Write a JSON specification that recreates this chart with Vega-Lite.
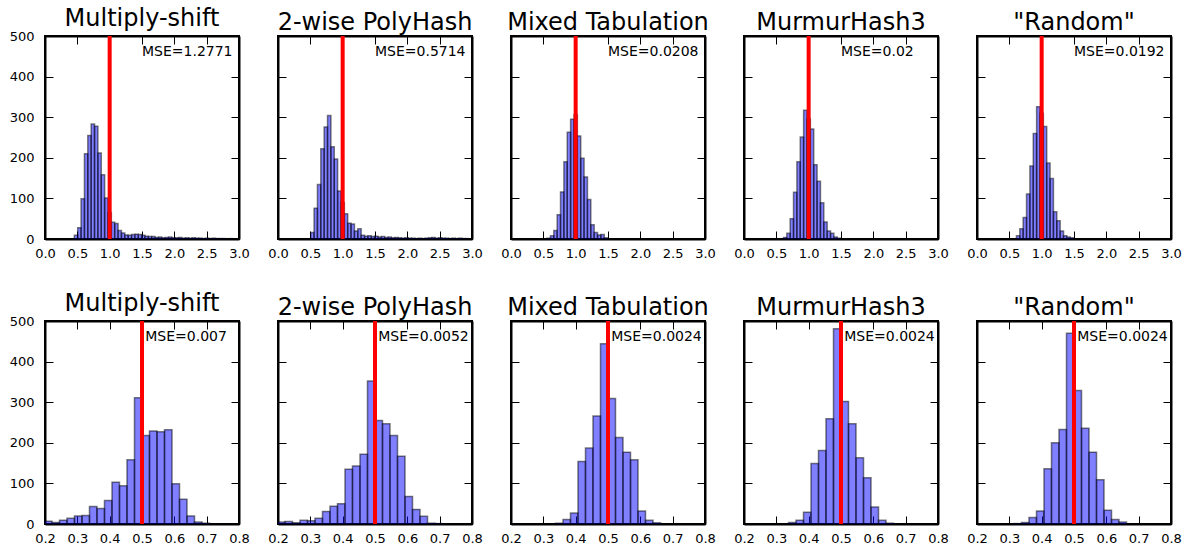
{
"$schema": "https://vega.github.io/schema/vega-lite/v6.json",
"padding": {"left": 8, "top": 6, "right": 5, "bottom": 5},
"background": "white",
"datasets": {
"mse": [
{"m":"ms","r":"t","v":1,"t":"MSE=1.2771"},{"m":"ph","r":"t","v":1,"t":"MSE=0.5714"},{"m":"mt","r":"t","v":1,"t":"MSE=0.0208"},{"m":"mm","r":"t","v":1,"t":"MSE=0.02"},{"m":"rd","r":"t","v":1,"t":"MSE=0.0192"},
{"m":"ms","r":"b","v":0.5,"t":"MSE=0.007"},{"m":"ph","r":"b","v":0.5,"t":"MSE=0.0052"},{"m":"mt","r":"b","v":0.5,"t":"MSE=0.0024"},{"m":"mm","r":"b","v":0.5,"t":"MSE=0.0024"},{"m":"rd","r":"b","v":0.5,"t":"MSE=0.0024"}
],
"top": [
{"m":"ms","x0":0.454,"x1":0.506,"c":9},{"m":"ms","x0":0.506,"x1":0.558,"c":28},{"m":"ms","x0":0.558,"x1":0.610,"c":99},{"m":"ms","x0":0.610,"x1":0.662,"c":210},{"m":"ms","x0":0.662,"x1":0.714,"c":255},{"m":"ms","x0":0.714,"x1":0.766,"c":283},{"m":"ms","x0":0.766,"x1":0.818,"c":278},{"m":"ms","x0":0.818,"x1":0.870,"c":212},{"m":"ms","x0":0.870,"x1":0.922,"c":158},{"m":"ms","x0":0.922,"x1":0.974,"c":101},{"m":"ms","x0":0.974,"x1":1.026,"c":65},{"m":"ms","x0":1.026,"x1":1.078,"c":41},{"m":"ms","x0":1.078,"x1":1.130,"c":38},{"m":"ms","x0":1.130,"x1":1.182,"c":21},{"m":"ms","x0":1.182,"x1":1.234,"c":15},{"m":"ms","x0":1.234,"x1":1.286,"c":10},{"m":"ms","x0":1.286,"x1":1.338,"c":9},{"m":"ms","x0":1.338,"x1":1.390,"c":11},{"m":"ms","x0":1.390,"x1":1.442,"c":12},{"m":"ms","x0":1.442,"x1":1.494,"c":11},{"m":"ms","x0":1.494,"x1":1.546,"c":9},{"m":"ms","x0":1.546,"x1":1.598,"c":7},{"m":"ms","x0":1.598,"x1":1.650,"c":6},{"m":"ms","x0":1.650,"x1":1.702,"c":6},{"m":"ms","x0":1.702,"x1":1.754,"c":4},{"m":"ms","x0":1.754,"x1":1.806,"c":5},{"m":"ms","x0":1.806,"x1":1.858,"c":3},{"m":"ms","x0":1.858,"x1":1.910,"c":4},{"m":"ms","x0":1.910,"x1":1.962,"c":5},{"m":"ms","x0":1.962,"x1":2.014,"c":3},{"m":"ms","x0":2.014,"x1":2.066,"c":3},{"m":"ms","x0":2.066,"x1":2.118,"c":4},{"m":"ms","x0":2.118,"x1":2.170,"c":2},{"m":"ms","x0":2.170,"x1":2.222,"c":3},{"m":"ms","x0":2.222,"x1":2.274,"c":2},{"m":"ms","x0":2.274,"x1":2.326,"c":3},{"m":"ms","x0":2.326,"x1":2.378,"c":2},{"m":"ms","x0":2.378,"x1":2.430,"c":2},{"m":"ms","x0":2.430,"x1":2.482,"c":1},{"m":"ms","x0":2.482,"x1":2.534,"c":2},{"m":"ms","x0":2.534,"x1":2.586,"c":1},{"m":"ms","x0":2.586,"x1":2.638,"c":2},{"m":"ms","x0":2.638,"x1":2.690,"c":1},{"m":"ms","x0":2.690,"x1":2.742,"c":1},{"m":"ms","x0":2.742,"x1":2.794,"c":1},{"m":"ms","x0":2.846,"x1":2.898,"c":1},
{"m":"ph","x0":0.506,"x1":0.558,"c":16},{"m":"ph","x0":0.558,"x1":0.610,"c":76},{"m":"ph","x0":0.610,"x1":0.662,"c":134},{"m":"ph","x0":0.662,"x1":0.714,"c":222},{"m":"ph","x0":0.714,"x1":0.766,"c":276},{"m":"ph","x0":0.766,"x1":0.818,"c":304},{"m":"ph","x0":0.818,"x1":0.870,"c":227},{"m":"ph","x0":0.870,"x1":0.922,"c":197},{"m":"ph","x0":0.922,"x1":0.974,"c":118},{"m":"ph","x0":0.974,"x1":1.026,"c":90},{"m":"ph","x0":1.026,"x1":1.078,"c":62},{"m":"ph","x0":1.078,"x1":1.130,"c":39},{"m":"ph","x0":1.130,"x1":1.182,"c":37},{"m":"ph","x0":1.182,"x1":1.234,"c":20},{"m":"ph","x0":1.234,"x1":1.286,"c":25},{"m":"ph","x0":1.286,"x1":1.338,"c":9},{"m":"ph","x0":1.338,"x1":1.390,"c":7},{"m":"ph","x0":1.390,"x1":1.442,"c":8},{"m":"ph","x0":1.442,"x1":1.494,"c":6},{"m":"ph","x0":1.494,"x1":1.546,"c":7},{"m":"ph","x0":1.546,"x1":1.598,"c":5},{"m":"ph","x0":1.598,"x1":1.650,"c":6},{"m":"ph","x0":1.650,"x1":1.702,"c":4},{"m":"ph","x0":1.702,"x1":1.754,"c":5},{"m":"ph","x0":1.754,"x1":1.806,"c":3},{"m":"ph","x0":1.806,"x1":1.858,"c":4},{"m":"ph","x0":1.858,"x1":1.910,"c":3},{"m":"ph","x0":1.910,"x1":1.962,"c":2},{"m":"ph","x0":1.962,"x1":2.014,"c":3},{"m":"ph","x0":2.014,"x1":2.066,"c":2},{"m":"ph","x0":2.066,"x1":2.118,"c":2},{"m":"ph","x0":2.118,"x1":2.170,"c":1},{"m":"ph","x0":2.170,"x1":2.222,"c":2},{"m":"ph","x0":2.222,"x1":2.274,"c":1},{"m":"ph","x0":2.274,"x1":2.326,"c":2},{"m":"ph","x0":2.326,"x1":2.378,"c":3},{"m":"ph","x0":2.378,"x1":2.430,"c":4},{"m":"ph","x0":2.430,"x1":2.482,"c":2},{"m":"ph","x0":2.482,"x1":2.534,"c":3},{"m":"ph","x0":2.534,"x1":2.586,"c":2},{"m":"ph","x0":2.586,"x1":2.638,"c":2},{"m":"ph","x0":2.638,"x1":2.690,"c":1},{"m":"ph","x0":2.690,"x1":2.742,"c":2},{"m":"ph","x0":2.742,"x1":2.794,"c":1},{"m":"ph","x0":2.794,"x1":2.846,"c":2},{"m":"ph","x0":2.846,"x1":2.898,"c":1},{"m":"ph","x0":2.898,"x1":2.950,"c":1},
{"m":"mt","x0":0.558,"x1":0.610,"c":2},{"m":"mt","x0":0.610,"x1":0.662,"c":8},{"m":"mt","x0":0.662,"x1":0.714,"c":21},{"m":"mt","x0":0.714,"x1":0.766,"c":60},{"m":"mt","x0":0.766,"x1":0.818,"c":116},{"m":"mt","x0":0.818,"x1":0.870,"c":190},{"m":"mt","x0":0.870,"x1":0.922,"c":263},{"m":"mt","x0":0.922,"x1":0.974,"c":295},{"m":"mt","x0":0.974,"x1":1.026,"c":306},{"m":"mt","x0":1.026,"x1":1.078,"c":254},{"m":"mt","x0":1.078,"x1":1.130,"c":199},{"m":"mt","x0":1.130,"x1":1.182,"c":153},{"m":"mt","x0":1.182,"x1":1.234,"c":97},{"m":"mt","x0":1.234,"x1":1.286,"c":35},{"m":"mt","x0":1.286,"x1":1.338,"c":16},{"m":"mt","x0":1.338,"x1":1.390,"c":10},{"m":"mt","x0":1.390,"x1":1.442,"c":11},{"m":"mt","x0":1.442,"x1":1.494,"c":3},
{"m":"mm","x0":0.610,"x1":0.662,"c":4},{"m":"mm","x0":0.662,"x1":0.714,"c":14},{"m":"mm","x0":0.714,"x1":0.766,"c":50},{"m":"mm","x0":0.766,"x1":0.818,"c":115},{"m":"mm","x0":0.818,"x1":0.870,"c":190},{"m":"mm","x0":0.870,"x1":0.922,"c":251},{"m":"mm","x0":0.922,"x1":0.974,"c":317},{"m":"mm","x0":0.974,"x1":1.026,"c":296},{"m":"mm","x0":1.026,"x1":1.078,"c":271},{"m":"mm","x0":1.078,"x1":1.130,"c":183},{"m":"mm","x0":1.130,"x1":1.182,"c":142},{"m":"mm","x0":1.182,"x1":1.234,"c":89},{"m":"mm","x0":1.234,"x1":1.286,"c":42},{"m":"mm","x0":1.286,"x1":1.338,"c":20},{"m":"mm","x0":1.338,"x1":1.390,"c":14},{"m":"mm","x0":1.390,"x1":1.442,"c":5},{"m":"mm","x0":1.442,"x1":1.494,"c":2},
{"m":"rd","x0":0.610,"x1":0.662,"c":8},{"m":"rd","x0":0.662,"x1":0.714,"c":25},{"m":"rd","x0":0.714,"x1":0.766,"c":53},{"m":"rd","x0":0.766,"x1":0.818,"c":111},{"m":"rd","x0":0.818,"x1":0.870,"c":180},{"m":"rd","x0":0.870,"x1":0.922,"c":260},{"m":"rd","x0":0.922,"x1":0.974,"c":326},{"m":"rd","x0":0.974,"x1":1.026,"c":310},{"m":"rd","x0":1.026,"x1":1.078,"c":277},{"m":"rd","x0":1.078,"x1":1.130,"c":187},{"m":"rd","x0":1.130,"x1":1.182,"c":149},{"m":"rd","x0":1.182,"x1":1.234,"c":67},{"m":"rd","x0":1.234,"x1":1.286,"c":45},{"m":"rd","x0":1.286,"x1":1.338,"c":20},{"m":"rd","x0":1.338,"x1":1.390,"c":8},{"m":"rd","x0":1.390,"x1":1.442,"c":5},{"m":"rd","x0":1.442,"x1":1.494,"c":3}
],
"bot": [
{"m":"ms","x0":0.1984,"x1":0.2216,"c":7},{"m":"ms","x0":0.2216,"x1":0.2448,"c":4},{"m":"ms","x0":0.2448,"x1":0.2680,"c":9},{"m":"ms","x0":0.2680,"x1":0.2912,"c":14},{"m":"ms","x0":0.2912,"x1":0.3144,"c":20},{"m":"ms","x0":0.3144,"x1":0.3376,"c":21},{"m":"ms","x0":0.3376,"x1":0.3608,"c":43},{"m":"ms","x0":0.3608,"x1":0.3840,"c":38},{"m":"ms","x0":0.3840,"x1":0.4072,"c":58},{"m":"ms","x0":0.4072,"x1":0.4304,"c":103},{"m":"ms","x0":0.4304,"x1":0.4536,"c":94},{"m":"ms","x0":0.4536,"x1":0.4768,"c":158},{"m":"ms","x0":0.4768,"x1":0.5000,"c":311},{"m":"ms","x0":0.5000,"x1":0.5232,"c":218},{"m":"ms","x0":0.5232,"x1":0.5464,"c":229},{"m":"ms","x0":0.5464,"x1":0.5696,"c":227},{"m":"ms","x0":0.5696,"x1":0.5928,"c":232},{"m":"ms","x0":0.5928,"x1":0.6160,"c":99},{"m":"ms","x0":0.6160,"x1":0.6392,"c":61},{"m":"ms","x0":0.6392,"x1":0.6624,"c":20},{"m":"ms","x0":0.6624,"x1":0.6856,"c":5},{"m":"ms","x0":0.6856,"x1":0.7088,"c":2},
{"m":"ph","x0":0.1984,"x1":0.2216,"c":5},{"m":"ph","x0":0.2216,"x1":0.2448,"c":6},{"m":"ph","x0":0.2448,"x1":0.2680,"c":3},{"m":"ph","x0":0.2680,"x1":0.2912,"c":9},{"m":"ph","x0":0.2912,"x1":0.3144,"c":8},{"m":"ph","x0":0.3144,"x1":0.3376,"c":14},{"m":"ph","x0":0.3376,"x1":0.3608,"c":31},{"m":"ph","x0":0.3608,"x1":0.3840,"c":44},{"m":"ph","x0":0.3840,"x1":0.4072,"c":50},{"m":"ph","x0":0.4072,"x1":0.4304,"c":135},{"m":"ph","x0":0.4304,"x1":0.4536,"c":143},{"m":"ph","x0":0.4536,"x1":0.4768,"c":172},{"m":"ph","x0":0.4768,"x1":0.5000,"c":352},{"m":"ph","x0":0.5000,"x1":0.5232,"c":255},{"m":"ph","x0":0.5232,"x1":0.5464,"c":247},{"m":"ph","x0":0.5464,"x1":0.5696,"c":218},{"m":"ph","x0":0.5696,"x1":0.5928,"c":167},{"m":"ph","x0":0.5928,"x1":0.6160,"c":68},{"m":"ph","x0":0.6160,"x1":0.6392,"c":36},{"m":"ph","x0":0.6392,"x1":0.6624,"c":19},{"m":"ph","x0":0.6624,"x1":0.6856,"c":2},{"m":"ph","x0":0.6856,"x1":0.7088,"c":1},
{"m":"mt","x0":0.3376,"x1":0.3608,"c":2},{"m":"mt","x0":0.3608,"x1":0.3840,"c":11},{"m":"mt","x0":0.3840,"x1":0.4072,"c":27},{"m":"mt","x0":0.4072,"x1":0.4304,"c":154},{"m":"mt","x0":0.4304,"x1":0.4536,"c":187},{"m":"mt","x0":0.4536,"x1":0.4768,"c":266},{"m":"mt","x0":0.4768,"x1":0.5000,"c":444},{"m":"mt","x0":0.5000,"x1":0.5232,"c":309},{"m":"mt","x0":0.5232,"x1":0.5464,"c":213},{"m":"mt","x0":0.5464,"x1":0.5696,"c":177},{"m":"mt","x0":0.5696,"x1":0.5928,"c":158},{"m":"mt","x0":0.5928,"x1":0.6160,"c":32},{"m":"mt","x0":0.6160,"x1":0.6392,"c":9},{"m":"mt","x0":0.6392,"x1":0.6624,"c":3},
{"m":"mm","x0":0.3376,"x1":0.3608,"c":4},{"m":"mm","x0":0.3608,"x1":0.3840,"c":9},{"m":"mm","x0":0.3840,"x1":0.4072,"c":29},{"m":"mm","x0":0.4072,"x1":0.4304,"c":149},{"m":"mm","x0":0.4304,"x1":0.4536,"c":181},{"m":"mm","x0":0.4536,"x1":0.4768,"c":259},{"m":"mm","x0":0.4768,"x1":0.5000,"c":481},{"m":"mm","x0":0.5000,"x1":0.5232,"c":302},{"m":"mm","x0":0.5232,"x1":0.5464,"c":247},{"m":"mm","x0":0.5464,"x1":0.5696,"c":163},{"m":"mm","x0":0.5696,"x1":0.5928,"c":114},{"m":"mm","x0":0.5928,"x1":0.6160,"c":42},{"m":"mm","x0":0.6160,"x1":0.6392,"c":9},{"m":"mm","x0":0.6392,"x1":0.6624,"c":2},
{"m":"rd","x0":0.3144,"x1":0.3376,"c":1},{"m":"rd","x0":0.3376,"x1":0.3608,"c":4},{"m":"rd","x0":0.3608,"x1":0.3840,"c":16},{"m":"rd","x0":0.3840,"x1":0.4072,"c":32},{"m":"rd","x0":0.4072,"x1":0.4304,"c":136},{"m":"rd","x0":0.4304,"x1":0.4536,"c":200},{"m":"rd","x0":0.4536,"x1":0.4768,"c":233},{"m":"rd","x0":0.4768,"x1":0.5000,"c":470},{"m":"rd","x0":0.5000,"x1":0.5232,"c":329},{"m":"rd","x0":0.5232,"x1":0.5464,"c":236},{"m":"rd","x0":0.5464,"x1":0.5696,"c":177},{"m":"rd","x0":0.5696,"x1":0.5928,"c":109},{"m":"rd","x0":0.5928,"x1":0.6160,"c":34},{"m":"rd","x0":0.6160,"x1":0.6392,"c":11},{"m":"rd","x0":0.6392,"x1":0.6624,"c":5}
]
},
"bounds": "flush",
"columns": 5,
"spacing": {"row": 82, "column": 39},
"concat": [
{"title": "Multiply-shift", "width": 194, "height": 203, "resolve": {"axis": {"x": "independent", "y": "independent"}}, "layer": [
{"data": {"name": "top"}, "transform": [{"filter": "datum.m == 'ms'"}], "mark": {"type": "bar", "fill": "#0000ff", "fillOpacity": 0.5, "stroke": "#000000", "strokeOpacity": 0.5, "strokeWidth": 1.5, "clip": true},
 "encoding": {"x": {"field": "x0", "type": "quantitative", "scale": {"domain": [0, 3], "nice": false, "zero": false}, "axis": {"orient": "bottom", "values": [0, 0.5, 1, 1.5, 2, 2.5, 3], "format": ".1f"}}, "x2": {"field": "x1"}, "y": {"field": "c", "type": "quantitative", "scale": {"domain": [0, 500], "nice": false}, "axis": {"orient": "left", "values": [0, 100, 200, 300, 400, 500]}}, "y2": {"datum": 0}}},
{"data": {"name": "mse"}, "transform": [{"filter": "datum.m == 'ms' && datum.r == 't'"}], "mark": {"type": "rule", "color": "#ff0000", "strokeWidth": 4}, "encoding": {"x": {"field": "v", "type": "quantitative", "axis": null}}},
{"data": {"name": "mse"}, "transform": [{"filter": "datum.m == 'ms' && datum.r == 't'"}], "mark": {"type": "text", "align": "left", "baseline": "alphabetic", "fontSize": 14, "font": "DejaVu Sans", "color": "black"},
 "encoding": {"x": {"datum": 1.5, "type": "quantitative", "axis": {"orient": "top", "labels": false, "values": [0, 0.5, 1, 1.5, 2, 2.5, 3]}}, "y": {"datum": 450, "type": "quantitative", "axis": {"orient": "right", "labels": false, "values": [0, 100, 200, 300, 400, 500]}}, "text": {"field": "t"}}}
]},
{"title": "2-wise PolyHash", "width": 194, "height": 203, "resolve": {"axis": {"x": "independent", "y": "independent"}}, "layer": [
{"data": {"name": "top"}, "transform": [{"filter": "datum.m == 'ph'"}], "mark": {"type": "bar", "fill": "#0000ff", "fillOpacity": 0.5, "stroke": "#000000", "strokeOpacity": 0.5, "strokeWidth": 1.5, "clip": true},
 "encoding": {"x": {"field": "x0", "type": "quantitative", "scale": {"domain": [0, 3], "nice": false, "zero": false}, "axis": {"orient": "bottom", "values": [0, 0.5, 1, 1.5, 2, 2.5, 3], "format": ".1f"}}, "x2": {"field": "x1"}, "y": {"field": "c", "type": "quantitative", "scale": {"domain": [0, 500], "nice": false}, "axis": {"orient": "left", "labels": false, "values": [0, 100, 200, 300, 400, 500]}}, "y2": {"datum": 0}}},
{"data": {"name": "mse"}, "transform": [{"filter": "datum.m == 'ph' && datum.r == 't'"}], "mark": {"type": "rule", "color": "#ff0000", "strokeWidth": 4}, "encoding": {"x": {"field": "v", "type": "quantitative", "axis": null}}},
{"data": {"name": "mse"}, "transform": [{"filter": "datum.m == 'ph' && datum.r == 't'"}], "mark": {"type": "text", "align": "left", "baseline": "alphabetic", "fontSize": 14, "font": "DejaVu Sans", "color": "black"},
 "encoding": {"x": {"datum": 1.5, "type": "quantitative", "axis": {"orient": "top", "labels": false, "values": [0, 0.5, 1, 1.5, 2, 2.5, 3]}}, "y": {"datum": 450, "type": "quantitative", "axis": {"orient": "right", "labels": false, "values": [0, 100, 200, 300, 400, 500]}}, "text": {"field": "t"}}}
]},
{"title": "Mixed Tabulation", "width": 194, "height": 203, "resolve": {"axis": {"x": "independent", "y": "independent"}}, "layer": [
{"data": {"name": "top"}, "transform": [{"filter": "datum.m == 'mt'"}], "mark": {"type": "bar", "fill": "#0000ff", "fillOpacity": 0.5, "stroke": "#000000", "strokeOpacity": 0.5, "strokeWidth": 1.5, "clip": true},
 "encoding": {"x": {"field": "x0", "type": "quantitative", "scale": {"domain": [0, 3], "nice": false, "zero": false}, "axis": {"orient": "bottom", "values": [0, 0.5, 1, 1.5, 2, 2.5, 3], "format": ".1f"}}, "x2": {"field": "x1"}, "y": {"field": "c", "type": "quantitative", "scale": {"domain": [0, 500], "nice": false}, "axis": {"orient": "left", "labels": false, "values": [0, 100, 200, 300, 400, 500]}}, "y2": {"datum": 0}}},
{"data": {"name": "mse"}, "transform": [{"filter": "datum.m == 'mt' && datum.r == 't'"}], "mark": {"type": "rule", "color": "#ff0000", "strokeWidth": 4}, "encoding": {"x": {"field": "v", "type": "quantitative", "axis": null}}},
{"data": {"name": "mse"}, "transform": [{"filter": "datum.m == 'mt' && datum.r == 't'"}], "mark": {"type": "text", "align": "left", "baseline": "alphabetic", "fontSize": 14, "font": "DejaVu Sans", "color": "black"},
 "encoding": {"x": {"datum": 1.5, "type": "quantitative", "axis": {"orient": "top", "labels": false, "values": [0, 0.5, 1, 1.5, 2, 2.5, 3]}}, "y": {"datum": 450, "type": "quantitative", "axis": {"orient": "right", "labels": false, "values": [0, 100, 200, 300, 400, 500]}}, "text": {"field": "t"}}}
]},
{"title": "MurmurHash3", "width": 194, "height": 203, "resolve": {"axis": {"x": "independent", "y": "independent"}}, "layer": [
{"data": {"name": "top"}, "transform": [{"filter": "datum.m == 'mm'"}], "mark": {"type": "bar", "fill": "#0000ff", "fillOpacity": 0.5, "stroke": "#000000", "strokeOpacity": 0.5, "strokeWidth": 1.5, "clip": true},
 "encoding": {"x": {"field": "x0", "type": "quantitative", "scale": {"domain": [0, 3], "nice": false, "zero": false}, "axis": {"orient": "bottom", "values": [0, 0.5, 1, 1.5, 2, 2.5, 3], "format": ".1f"}}, "x2": {"field": "x1"}, "y": {"field": "c", "type": "quantitative", "scale": {"domain": [0, 500], "nice": false}, "axis": {"orient": "left", "labels": false, "values": [0, 100, 200, 300, 400, 500]}}, "y2": {"datum": 0}}},
{"data": {"name": "mse"}, "transform": [{"filter": "datum.m == 'mm' && datum.r == 't'"}], "mark": {"type": "rule", "color": "#ff0000", "strokeWidth": 4}, "encoding": {"x": {"field": "v", "type": "quantitative", "axis": null}}},
{"data": {"name": "mse"}, "transform": [{"filter": "datum.m == 'mm' && datum.r == 't'"}], "mark": {"type": "text", "align": "left", "baseline": "alphabetic", "fontSize": 14, "font": "DejaVu Sans", "color": "black"},
 "encoding": {"x": {"datum": 1.5, "type": "quantitative", "axis": {"orient": "top", "labels": false, "values": [0, 0.5, 1, 1.5, 2, 2.5, 3]}}, "y": {"datum": 450, "type": "quantitative", "axis": {"orient": "right", "labels": false, "values": [0, 100, 200, 300, 400, 500]}}, "text": {"field": "t"}}}
]},
{"title": "\"Random\"", "width": 194, "height": 203, "resolve": {"axis": {"x": "independent", "y": "independent"}}, "layer": [
{"data": {"name": "top"}, "transform": [{"filter": "datum.m == 'rd'"}], "mark": {"type": "bar", "fill": "#0000ff", "fillOpacity": 0.5, "stroke": "#000000", "strokeOpacity": 0.5, "strokeWidth": 1.5, "clip": true},
 "encoding": {"x": {"field": "x0", "type": "quantitative", "scale": {"domain": [0, 3], "nice": false, "zero": false}, "axis": {"orient": "bottom", "values": [0, 0.5, 1, 1.5, 2, 2.5, 3], "format": ".1f"}}, "x2": {"field": "x1"}, "y": {"field": "c", "type": "quantitative", "scale": {"domain": [0, 500], "nice": false}, "axis": {"orient": "left", "labels": false, "values": [0, 100, 200, 300, 400, 500]}}, "y2": {"datum": 0}}},
{"data": {"name": "mse"}, "transform": [{"filter": "datum.m == 'rd' && datum.r == 't'"}], "mark": {"type": "rule", "color": "#ff0000", "strokeWidth": 4}, "encoding": {"x": {"field": "v", "type": "quantitative", "axis": null}}},
{"data": {"name": "mse"}, "transform": [{"filter": "datum.m == 'rd' && datum.r == 't'"}], "mark": {"type": "text", "align": "left", "baseline": "alphabetic", "fontSize": 14, "font": "DejaVu Sans", "color": "black"},
 "encoding": {"x": {"datum": 1.5, "type": "quantitative", "axis": {"orient": "top", "labels": false, "values": [0, 0.5, 1, 1.5, 2, 2.5, 3]}}, "y": {"datum": 450, "type": "quantitative", "axis": {"orient": "right", "labels": false, "values": [0, 100, 200, 300, 400, 500]}}, "text": {"field": "t"}}}
]},
{"title": "Multiply-shift", "width": 194, "height": 203, "resolve": {"axis": {"x": "independent", "y": "independent"}}, "layer": [
{"data": {"name": "bot"}, "transform": [{"filter": "datum.m == 'ms'"}], "mark": {"type": "bar", "fill": "#0000ff", "fillOpacity": 0.5, "stroke": "#000000", "strokeOpacity": 0.5, "strokeWidth": 1.5, "clip": true},
 "encoding": {"x": {"field": "x0", "type": "quantitative", "scale": {"domain": [0.2, 0.8], "nice": false, "zero": false}, "axis": {"orient": "bottom", "values": [0.2, 0.3, 0.4, 0.5, 0.6, 0.7, 0.8], "format": ".1f"}}, "x2": {"field": "x1"}, "y": {"field": "c", "type": "quantitative", "scale": {"domain": [0, 500], "nice": false}, "axis": {"orient": "left", "values": [0, 100, 200, 300, 400, 500]}}, "y2": {"datum": 0}}},
{"data": {"name": "mse"}, "transform": [{"filter": "datum.m == 'ms' && datum.r == 'b'"}], "mark": {"type": "rule", "color": "#ff0000", "strokeWidth": 4}, "encoding": {"x": {"field": "v", "type": "quantitative", "axis": null}}},
{"data": {"name": "mse"}, "transform": [{"filter": "datum.m == 'ms' && datum.r == 'b'"}], "mark": {"type": "text", "align": "left", "baseline": "alphabetic", "fontSize": 14, "font": "DejaVu Sans", "color": "black"},
 "encoding": {"x": {"datum": 0.51, "type": "quantitative", "axis": {"orient": "top", "labels": false, "values": [0.2, 0.3, 0.4, 0.5, 0.6, 0.7, 0.8]}}, "y": {"datum": 450, "type": "quantitative", "axis": {"orient": "right", "labels": false, "values": [0, 100, 200, 300, 400, 500]}}, "text": {"field": "t"}}}
]},
{"title": "2-wise PolyHash", "width": 194, "height": 203, "resolve": {"axis": {"x": "independent", "y": "independent"}}, "layer": [
{"data": {"name": "bot"}, "transform": [{"filter": "datum.m == 'ph'"}], "mark": {"type": "bar", "fill": "#0000ff", "fillOpacity": 0.5, "stroke": "#000000", "strokeOpacity": 0.5, "strokeWidth": 1.5, "clip": true},
 "encoding": {"x": {"field": "x0", "type": "quantitative", "scale": {"domain": [0.2, 0.8], "nice": false, "zero": false}, "axis": {"orient": "bottom", "values": [0.2, 0.3, 0.4, 0.5, 0.6, 0.7, 0.8], "format": ".1f"}}, "x2": {"field": "x1"}, "y": {"field": "c", "type": "quantitative", "scale": {"domain": [0, 500], "nice": false}, "axis": {"orient": "left", "labels": false, "values": [0, 100, 200, 300, 400, 500]}}, "y2": {"datum": 0}}},
{"data": {"name": "mse"}, "transform": [{"filter": "datum.m == 'ph' && datum.r == 'b'"}], "mark": {"type": "rule", "color": "#ff0000", "strokeWidth": 4}, "encoding": {"x": {"field": "v", "type": "quantitative", "axis": null}}},
{"data": {"name": "mse"}, "transform": [{"filter": "datum.m == 'ph' && datum.r == 'b'"}], "mark": {"type": "text", "align": "left", "baseline": "alphabetic", "fontSize": 14, "font": "DejaVu Sans", "color": "black"},
 "encoding": {"x": {"datum": 0.51, "type": "quantitative", "axis": {"orient": "top", "labels": false, "values": [0.2, 0.3, 0.4, 0.5, 0.6, 0.7, 0.8]}}, "y": {"datum": 450, "type": "quantitative", "axis": {"orient": "right", "labels": false, "values": [0, 100, 200, 300, 400, 500]}}, "text": {"field": "t"}}}
]},
{"title": "Mixed Tabulation", "width": 194, "height": 203, "resolve": {"axis": {"x": "independent", "y": "independent"}}, "layer": [
{"data": {"name": "bot"}, "transform": [{"filter": "datum.m == 'mt'"}], "mark": {"type": "bar", "fill": "#0000ff", "fillOpacity": 0.5, "stroke": "#000000", "strokeOpacity": 0.5, "strokeWidth": 1.5, "clip": true},
 "encoding": {"x": {"field": "x0", "type": "quantitative", "scale": {"domain": [0.2, 0.8], "nice": false, "zero": false}, "axis": {"orient": "bottom", "values": [0.2, 0.3, 0.4, 0.5, 0.6, 0.7, 0.8], "format": ".1f"}}, "x2": {"field": "x1"}, "y": {"field": "c", "type": "quantitative", "scale": {"domain": [0, 500], "nice": false}, "axis": {"orient": "left", "labels": false, "values": [0, 100, 200, 300, 400, 500]}}, "y2": {"datum": 0}}},
{"data": {"name": "mse"}, "transform": [{"filter": "datum.m == 'mt' && datum.r == 'b'"}], "mark": {"type": "rule", "color": "#ff0000", "strokeWidth": 4}, "encoding": {"x": {"field": "v", "type": "quantitative", "axis": null}}},
{"data": {"name": "mse"}, "transform": [{"filter": "datum.m == 'mt' && datum.r == 'b'"}], "mark": {"type": "text", "align": "left", "baseline": "alphabetic", "fontSize": 14, "font": "DejaVu Sans", "color": "black"},
 "encoding": {"x": {"datum": 0.51, "type": "quantitative", "axis": {"orient": "top", "labels": false, "values": [0.2, 0.3, 0.4, 0.5, 0.6, 0.7, 0.8]}}, "y": {"datum": 450, "type": "quantitative", "axis": {"orient": "right", "labels": false, "values": [0, 100, 200, 300, 400, 500]}}, "text": {"field": "t"}}}
]},
{"title": "MurmurHash3", "width": 194, "height": 203, "resolve": {"axis": {"x": "independent", "y": "independent"}}, "layer": [
{"data": {"name": "bot"}, "transform": [{"filter": "datum.m == 'mm'"}], "mark": {"type": "bar", "fill": "#0000ff", "fillOpacity": 0.5, "stroke": "#000000", "strokeOpacity": 0.5, "strokeWidth": 1.5, "clip": true},
 "encoding": {"x": {"field": "x0", "type": "quantitative", "scale": {"domain": [0.2, 0.8], "nice": false, "zero": false}, "axis": {"orient": "bottom", "values": [0.2, 0.3, 0.4, 0.5, 0.6, 0.7, 0.8], "format": ".1f"}}, "x2": {"field": "x1"}, "y": {"field": "c", "type": "quantitative", "scale": {"domain": [0, 500], "nice": false}, "axis": {"orient": "left", "labels": false, "values": [0, 100, 200, 300, 400, 500]}}, "y2": {"datum": 0}}},
{"data": {"name": "mse"}, "transform": [{"filter": "datum.m == 'mm' && datum.r == 'b'"}], "mark": {"type": "rule", "color": "#ff0000", "strokeWidth": 4}, "encoding": {"x": {"field": "v", "type": "quantitative", "axis": null}}},
{"data": {"name": "mse"}, "transform": [{"filter": "datum.m == 'mm' && datum.r == 'b'"}], "mark": {"type": "text", "align": "left", "baseline": "alphabetic", "fontSize": 14, "font": "DejaVu Sans", "color": "black"},
 "encoding": {"x": {"datum": 0.51, "type": "quantitative", "axis": {"orient": "top", "labels": false, "values": [0.2, 0.3, 0.4, 0.5, 0.6, 0.7, 0.8]}}, "y": {"datum": 450, "type": "quantitative", "axis": {"orient": "right", "labels": false, "values": [0, 100, 200, 300, 400, 500]}}, "text": {"field": "t"}}}
]},
{"title": "\"Random\"", "width": 194, "height": 203, "resolve": {"axis": {"x": "independent", "y": "independent"}}, "layer": [
{"data": {"name": "bot"}, "transform": [{"filter": "datum.m == 'rd'"}], "mark": {"type": "bar", "fill": "#0000ff", "fillOpacity": 0.5, "stroke": "#000000", "strokeOpacity": 0.5, "strokeWidth": 1.5, "clip": true},
 "encoding": {"x": {"field": "x0", "type": "quantitative", "scale": {"domain": [0.2, 0.8], "nice": false, "zero": false}, "axis": {"orient": "bottom", "values": [0.2, 0.3, 0.4, 0.5, 0.6, 0.7, 0.8], "format": ".1f"}}, "x2": {"field": "x1"}, "y": {"field": "c", "type": "quantitative", "scale": {"domain": [0, 500], "nice": false}, "axis": {"orient": "left", "labels": false, "values": [0, 100, 200, 300, 400, 500]}}, "y2": {"datum": 0}}},
{"data": {"name": "mse"}, "transform": [{"filter": "datum.m == 'rd' && datum.r == 'b'"}], "mark": {"type": "rule", "color": "#ff0000", "strokeWidth": 4}, "encoding": {"x": {"field": "v", "type": "quantitative", "axis": null}}},
{"data": {"name": "mse"}, "transform": [{"filter": "datum.m == 'rd' && datum.r == 'b'"}], "mark": {"type": "text", "align": "left", "baseline": "alphabetic", "fontSize": 14, "font": "DejaVu Sans", "color": "black"},
 "encoding": {"x": {"datum": 0.51, "type": "quantitative", "axis": {"orient": "top", "labels": false, "values": [0.2, 0.3, 0.4, 0.5, 0.6, 0.7, 0.8]}}, "y": {"datum": 450, "type": "quantitative", "axis": {"orient": "right", "labels": false, "values": [0, 100, 200, 300, 400, 500]}}, "text": {"field": "t"}}}
]}
],
"config": {
"font": "DejaVu Sans",
"view": {"stroke": "black", "strokeWidth": 2},
"axis": {"grid": false, "title": null, "domain": true, "domainColor": "black", "domainWidth": 2, "tickColor": "black", "tickWidth": 1, "tickSize": -8, "labelFont": "DejaVu Sans", "labelFontSize": 13, "labelColor": "black", "zindex": 1, "labelFlush": false, "labelOverlap": false},
"axisX": {"labelPadding": 16},
"axisY": {"labelPadding": 19},
"title": {"fontSize": 24, "font": "DejaVu Sans", "fontWeight": "normal", "color": "black", "frame": "group", "baseline": "alphabetic", "offset": 0, "dy": 5, "anchor": "middle"}
}
}
